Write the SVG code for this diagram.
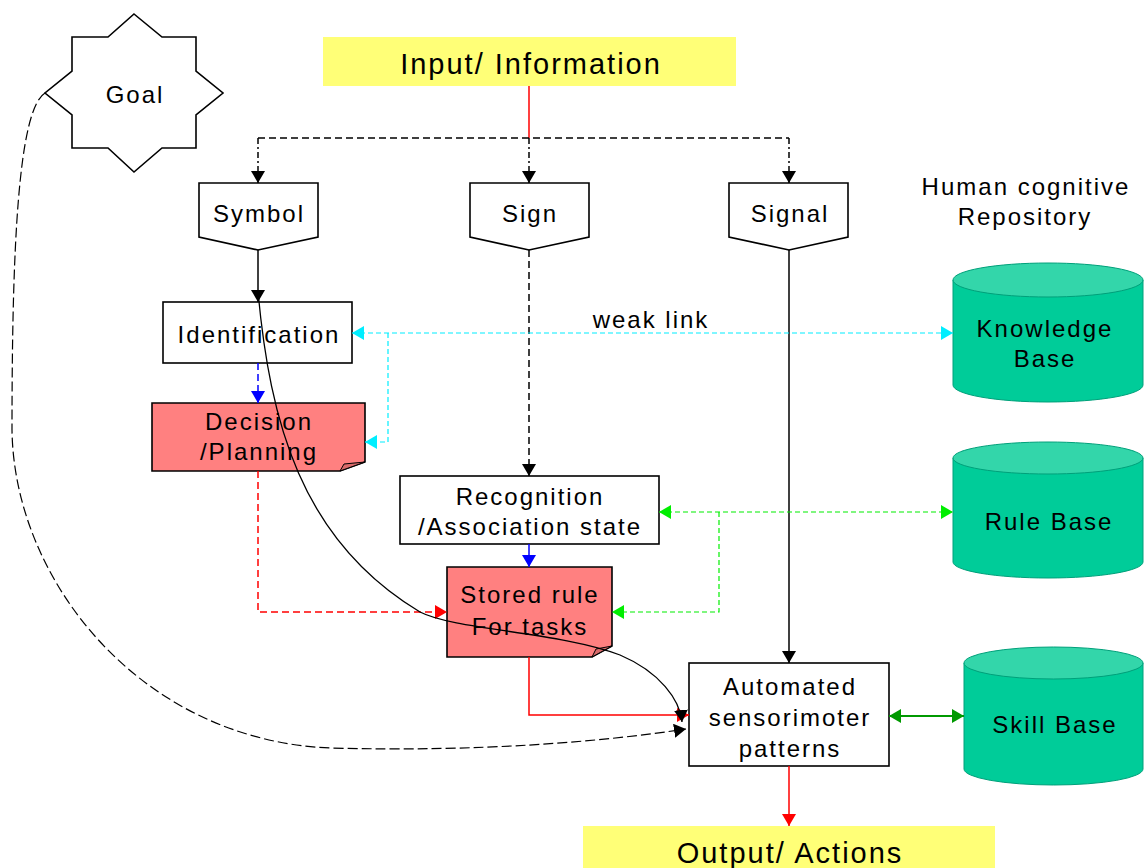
<svg xmlns="http://www.w3.org/2000/svg" width="1148" height="868" viewBox="0 0 1148 868">
  <style>
    .t { font-family: "Liberation Sans", Arial, sans-serif; font-size: 24px; letter-spacing: 2px; fill: #000; text-anchor: middle; }
    .big { font-size: 29px; }
    .box { fill: #fff; stroke: #000; stroke-width: 1.6; }
    .note { fill: #ff8080; stroke: #000; stroke-width: 1.6; }
    .fold { fill: #d86a6a; stroke: #000; stroke-width: 1; }
    .banner { fill: #ffff77; }
    .cylBody { fill: #00cc99; stroke: #00a07a; stroke-width: 1; }
    .cylTop { fill: #33d6aa; stroke: #00a07a; stroke-width: 1; }
    .ln { fill: none; stroke-width: 1.5; }
    .blk { stroke: #000; }
    .red { stroke: #ff0000; }
    .blue { stroke: #0000ff; }
    .cyan { stroke: #00eeff; stroke-dasharray: 5 3; stroke-width: 1.2; }
    .grn { stroke: #00ee00; stroke-dasharray: 5 3; stroke-width: 1.2; }
    .dgrn { stroke: #009900; stroke-width: 2; }
    .dash { stroke-dasharray: 7 4; }
    .dashdot { stroke-dasharray: 6 3 2 3; }
  </style>
  <defs>
    <marker id="aBlk" markerUnits="userSpaceOnUse" markerWidth="13" markerHeight="14" refX="12" refY="7" orient="auto"><path d="M0,0 L12,7 L0,14 Z" fill="#000"/></marker>
    <marker id="aRed" markerUnits="userSpaceOnUse" markerWidth="13" markerHeight="14" refX="12" refY="7" orient="auto"><path d="M0,0 L12,7 L0,14 Z" fill="#ff0000"/></marker>
    <marker id="aBlue" markerUnits="userSpaceOnUse" markerWidth="13" markerHeight="14" refX="12" refY="7" orient="auto"><path d="M0,0 L12,7 L0,14 Z" fill="#0000ff"/></marker>
    <marker id="aCyan" markerUnits="userSpaceOnUse" markerWidth="13" markerHeight="14" refX="12" refY="7" orient="auto-start-reverse"><path d="M0,0 L12,7 L0,14 Z" fill="#00eeff"/></marker>
    <marker id="aGrn" markerUnits="userSpaceOnUse" markerWidth="13" markerHeight="14" refX="12" refY="7" orient="auto-start-reverse"><path d="M0,0 L12,7 L0,14 Z" fill="#00ee00"/></marker>
    <marker id="aDgrn" markerUnits="userSpaceOnUse" markerWidth="13" markerHeight="14" refX="12" refY="7" orient="auto-start-reverse"><path d="M0,0 L12,7 L0,14 Z" fill="#009900"/></marker>
  </defs>

  <rect width="1148" height="868" fill="#fff"/>

  <g id="goal">
    <polygon points="134,14 162,37 196,37 196,71 223,93 196,115 196,148 162,148 134,172 108,148 72,148 72,115 45,93 72,71 72,37 108,37" fill="#fff" stroke="#000" stroke-width="1.6"/>
    <text class="t" x="135" y="103">Goal</text>
  </g>

  <g id="input">
    <rect class="banner" x="323" y="37" width="413" height="49"/>
    <text class="t big" x="531" y="74">Input/ Information</text>
  </g>

  <g id="symbol">
    <path class="box" d="M199,183 H318 V237 L258,250 L199,237 Z"/>
    <text class="t" x="259" y="222">Symbol</text>
  </g>
  <g id="sign">
    <path class="box" d="M470,183 H589 V237 L529,250 L470,237 Z"/>
    <text class="t" x="530" y="222">Sign</text>
  </g>
  <g id="signal">
    <path class="box" d="M729,183 H848 V237 L789,250 L729,237 Z"/>
    <text class="t" x="790" y="222">Signal</text>
  </g>

  <g id="repository-title">
    <text class="t" x="1026" y="195">Human cognitive</text>
    <text class="t" x="1025" y="225">Repository</text>
  </g>

  <g id="weak-link-label">
    <text class="t" x="651" y="328">weak link</text>
  </g>

  <g id="identification">
    <rect class="box" x="163" y="302" width="189" height="61"/>
    <text class="t" x="259" y="343">Identification</text>
  </g>

  <g id="decision">
    <path class="note" d="M152,403 H365 V462 L340,471 H152 Z"/>
    <path class="fold" d="M365,462 L340,471 L344,464 Z"/>
    <text class="t" x="259" y="430">Decision</text>
    <text class="t" x="259" y="460">/Planning</text>
  </g>

  <g id="recognition">
    <rect class="box" x="400" y="476" width="259" height="68"/>
    <text class="t" x="530" y="505">Recognition</text>
    <text class="t" x="530" y="535">/Association state</text>
  </g>

  <g id="stored-rule">
    <path class="note" d="M447,567 H612 V646 L592,657 H447 Z"/>
    <path class="fold" d="M612,646 L592,657 L596,649 Z"/>
    <text class="t" x="530" y="603">Stored rule</text>
    <text class="t" x="530" y="635">For tasks</text>
  </g>

  <g id="automated">
    <rect class="box" x="689" y="663" width="200" height="103"/>
    <text class="t" x="790" y="695">Automated</text>
    <text class="t" x="790" y="726">sensorimoter</text>
    <text class="t" x="790" y="757">patterns</text>
  </g>

  <g id="knowledge-base">
    <path class="cylBody" d="M953,280 V385 A95,17 0 0 0 1143,385 V280 Z"/>
    <ellipse class="cylTop" cx="1048" cy="280" rx="95" ry="17"/>
    <text class="t" x="1045" y="337">Knowledge</text>
    <text class="t" x="1045" y="367">Base</text>
  </g>

  <g id="rule-base">
    <path class="cylBody" d="M953,458 V562 A95,16 0 0 0 1143,562 V458 Z"/>
    <ellipse class="cylTop" cx="1048" cy="458" rx="95" ry="16"/>
    <text class="t" x="1049" y="530">Rule Base</text>
  </g>

  <g id="skill-base">
    <path class="cylBody" d="M964,663 V769 A89.5,16 0 0 0 1143,769 V663 Z"/>
    <ellipse class="cylTop" cx="1053.5" cy="663" rx="89.5" ry="16"/>
    <text class="t" x="1055" y="733">Skill Base</text>
  </g>

  <g id="output">
    <rect class="banner" x="583" y="826" width="412" height="42"/>
    <text class="t big" x="790" y="863">Output/ Actions</text>
  </g>

  <!-- connectors, drawn over the nodes so the long curves cross them -->
  <g id="connectors">
    <!-- input fan-out -->
    <path class="ln red" d="M529,86 V138"/>
    <path class="ln blk dash" d="M258,138 H789"/>
    <path class="ln blk dashdot" d="M258,138 V183" marker-end="url(#aBlk)"/>
    <path class="ln blk dashdot" d="M529,138 V183" marker-end="url(#aBlk)"/>
    <path class="ln blk dashdot" d="M789,138 V183" marker-end="url(#aBlk)"/>
    <!-- symbol path -->
    <path class="ln blk" d="M258,250 V302" marker-end="url(#aBlk)"/>
    <path class="ln blue dash" d="M258,363 V403" marker-end="url(#aBlue)"/>
    <path class="ln red dash" d="M258,471 V612 H447" marker-end="url(#aRed)"/>
    <!-- sign path -->
    <path class="ln blk dash" d="M529,250 V476" marker-end="url(#aBlk)"/>
    <path class="ln blue" d="M529,544 V567" marker-end="url(#aBlue)"/>
    <path class="ln red" d="M529,657 V715 H689" marker-end="url(#aRed)"/>
    <!-- signal path -->
    <path class="ln blk" d="M789,250 V663" marker-end="url(#aBlk)"/>
    <path class="ln red" d="M789,766 V826" marker-end="url(#aRed)"/>
    <!-- weak link to knowledge base -->
    <path class="ln cyan" d="M352,333 H953" marker-start="url(#aCyan)" marker-end="url(#aCyan)"/>
    <path class="ln cyan" d="M388,333 V442 H365" marker-end="url(#aCyan)"/>
    <!-- rule base links -->
    <path class="ln grn" d="M659,512 H953" marker-start="url(#aGrn)" marker-end="url(#aGrn)"/>
    <path class="ln grn" d="M719,512 V612 H612" marker-end="url(#aGrn)"/>
    <!-- skill base link -->
    <path class="ln dgrn" d="M889,716 H964" marker-start="url(#aDgrn)" marker-end="url(#aDgrn)"/>
    <!-- symbol to automated patterns -->
    <path class="ln blk" style="stroke-width:1.3" d="M258,292 C270,420 300,540 420,612 C455,630 560,632 620,655 C660,672 680,700 682,722" marker-end="url(#aBlk)"/>
    <!-- goal to automated patterns -->
    <path class="ln blk" style="stroke-width:1.2;stroke-dasharray:10 4" d="M45,93 C18,110 12,250 12,430 C14,580 140,740 330,748 C480,752 600,742 686,729" marker-end="url(#aBlk)"/>
  </g>
</svg>
